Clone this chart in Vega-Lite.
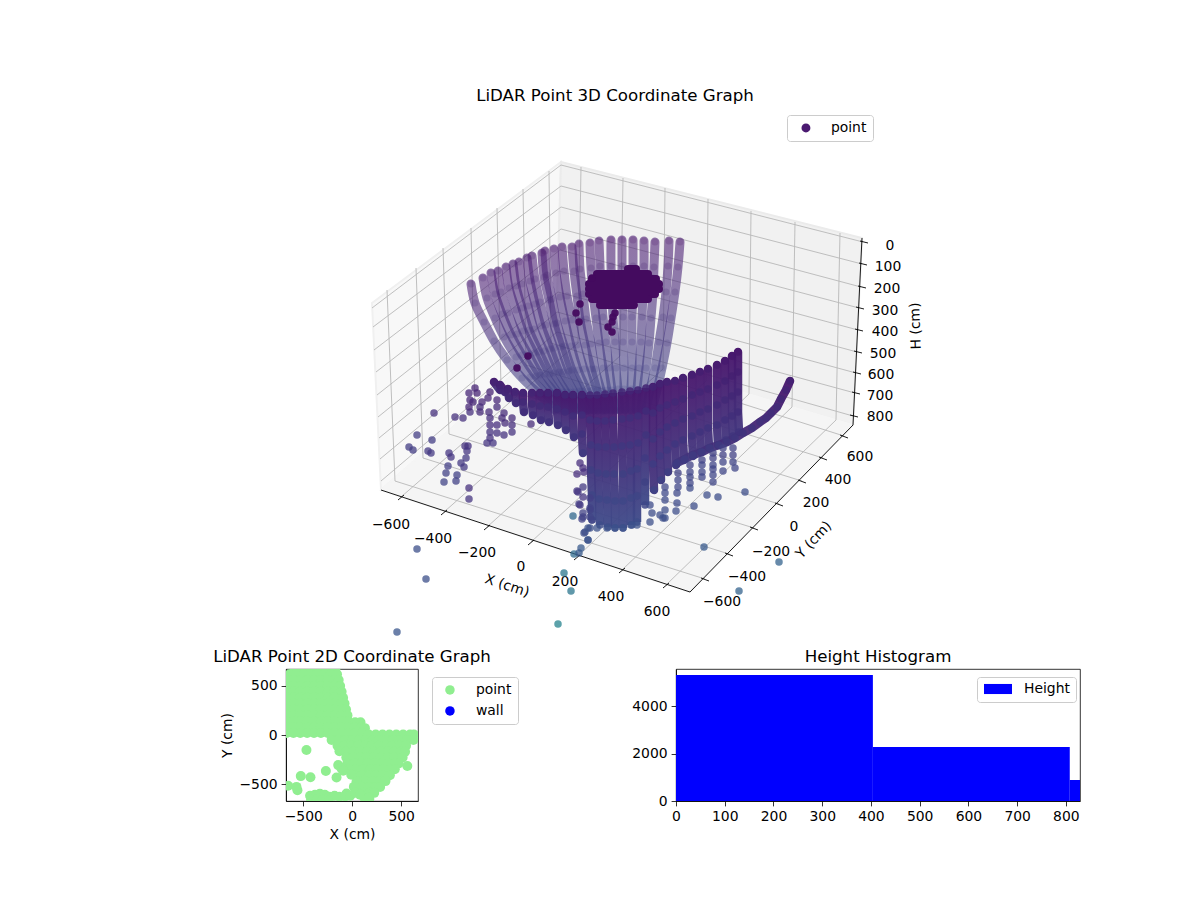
{
"$schema":"https://vega.github.io/schema/vega-lite/v6.json",
"background":"white",
"padding":{"left":212,"top":88,"right":0,"bottom":0},
"bounds":"flush",
"spacing":29,
"resolve":{"scale":{"color":"independent"},"legend":{"color":"independent"}},
"config":{"font":"DejaVu Sans","title":{"fontSize":16.67,"fontWeight":"normal","color":"black"},
"axis":{"grid":false,"labelFontSize":13.9,"labelColor":"black","tickColor":"black","tickSize":4.9,"tickWidth":0.8,"domainColor":"black","domainWidth":0.8,"labelPadding":4,"titleFontSize":13.9,"titleFontWeight":"normal","titleColor":"black","labelFlush":false,"labelOverlap":false},
"legend":{"labelFontSize":13.9,"labelColor":"black"},
"view":{"stroke":"black","strokeWidth":0.8}},
"datasets":{
"grid":[
{"u":387,"v":290,"u2":395,"v2":481},{"u":416,"v":268,"u2":423,"v2":458},{"u":443,"v":248,"u2":449,"v2":434},{"u":471,"v":228,"u2":475,"v2":411},{"u":497,"v":208,"u2":501,"v2":388},{"u":523,"v":189,"u2":526,"v2":365},{"u":549,"v":171,"u2":551,"v2":343},
{"u":372,"v":308,"u2":561,"v2":165},{"u":373,"v":327,"u2":561,"v2":186},{"u":374,"v":350,"u2":561,"v2":207},{"u":376,"v":372,"u2":561,"v2":229},{"u":377,"v":395,"u2":560,"v2":250},{"u":378,"v":417,"u2":559,"v2":271},{"u":379,"v":438,"u2":558,"v2":292},{"u":380,"v":459,"u2":557,"v2":312},{"u":381,"v":481,"u2":557,"v2":332},
{"u":581,"v":167,"u2":578,"v2":343},{"u":623,"v":178,"u2":620,"v2":356},{"u":665,"v":188,"u2":663,"v2":369},{"u":708,"v":199,"u2":706,"v2":381},{"u":751,"v":211,"u2":749,"v2":394},{"u":795,"v":222,"u2":792,"v2":407},{"u":840,"v":233,"u2":836,"v2":420},
{"u":561,"v":165,"u2":863,"v2":242},{"u":561,"v":186,"u2":862,"v2":264},{"u":561,"v":207,"u2":861,"v2":287},{"u":561,"v":229,"u2":859,"v2":308},{"u":560,"v":250,"u2":858,"v2":330},{"u":559,"v":271,"u2":857,"v2":352},{"u":558,"v":292,"u2":856,"v2":373},{"u":557,"v":312,"u2":855,"v2":393},{"u":557,"v":332,"u2":853,"v2":416},
{"u":401,"v":497,"u2":578,"v2":343},{"u":444,"v":512,"u2":620,"v2":356},{"u":487,"v":527,"u2":663,"v2":369},{"u":531,"v":542,"u2":706,"v2":381},{"u":577,"v":557,"u2":749,"v2":394},{"u":622,"v":570,"u2":792,"v2":407},{"u":666,"v":585,"u2":836,"v2":420},
{"u":395,"v":481,"u2":705,"v2":579},{"u":423,"v":458,"u2":729,"v2":554},{"u":449,"v":434,"u2":754,"v2":528},{"u":475,"v":411,"u2":779,"v2":504},{"u":501,"v":388,"u2":802,"v2":481},{"u":526,"v":365,"u2":823,"v2":458},{"u":551,"v":343,"u2":844,"v2":436}
],
"axes3d":[
{"u":381,"v":490,"u2":690,"v2":592},{"u":690,"v":592,"u2":853,"v2":425},{"u":862,"v":238,"u2":853,"v2":425},
{"u":398,"v":500,"u2":404,"v2":495},{"u":441,"v":515,"u2":447,"v2":510},{"u":484,"v":530,"u2":490,"v2":525},{"u":528,"v":545,"u2":534,"v2":540},{"u":574,"v":560,"u2":580,"v2":555},{"u":619,"v":573,"u2":625,"v2":568},{"u":663,"v":588,"u2":669,"v2":583},
{"u":701,"v":578,"u2":709,"v2":581},{"u":725,"v":553,"u2":733,"v2":556},{"u":750,"v":527,"u2":758,"v2":530},{"u":775,"v":503,"u2":783,"v2":506},{"u":798,"v":480,"u2":806,"v2":483},{"u":819,"v":457,"u2":827,"v2":460},{"u":840,"v":435,"u2":848,"v2":438},
{"u":860,"v":241,"u2":868,"v2":243},{"u":859,"v":263,"u2":867,"v2":265},{"u":858,"v":286,"u2":866,"v2":288},{"u":856,"v":307,"u2":864,"v2":309},{"u":855,"v":329,"u2":863,"v2":331},{"u":854,"v":351,"u2":862,"v2":353},{"u":853,"v":372,"u2":861,"v2":374},{"u":852,"v":392,"u2":860,"v2":394},{"u":850,"v":415,"u2":858,"v2":417}
],
"ticks3d":[
{"u":391,"v":525,"t":"−600"},{"u":433,"v":539,"t":"−400"},{"u":477,"v":553,"t":"−200"},{"u":521,"v":567,"t":"0"},{"u":565,"v":582,"t":"200"},{"u":611,"v":597,"t":"400"},{"u":657,"v":612,"t":"600"},
{"u":722,"v":602,"t":"−600"},{"u":747,"v":577,"t":"−400"},{"u":771,"v":552,"t":"−200"},{"u":794,"v":527,"t":"0"},{"u":816,"v":503,"t":"200"},{"u":838,"v":480,"t":"400"},{"u":860,"v":457,"t":"600"},
{"u":890,"v":246,"t":"0"},{"u":888,"v":267,"t":"100"},{"u":887,"v":289,"t":"200"},{"u":885,"v":311,"t":"300"},{"u":885,"v":332,"t":"400"},{"u":883,"v":354,"t":"500"},{"u":881,"v":375,"t":"600"},{"u":880,"v":396,"t":"700"},{"u":880,"v":417,"t":"800"}
],
"rear":[
{"c":1,"u":471,"v":284},{"c":1,"u":475,"v":303},{"c":1,"u":484,"v":322},{"c":1,"u":494,"v":341},{"c":1,"u":507,"v":360},{"c":1,"u":522,"v":378},{"c":1,"u":540,"v":395},{"c":1,"u":555,"v":410},
{"c":2,"u":483,"v":278},{"c":2,"u":487,"v":298},{"c":2,"u":495,"v":318},{"c":2,"u":504,"v":337},{"c":2,"u":516,"v":357},{"c":2,"u":530,"v":377},{"c":2,"u":546,"v":394},{"c":2,"u":560,"v":410},
{"c":3,"u":491,"v":273},{"c":3,"u":495,"v":294},{"c":3,"u":502,"v":314},{"c":3,"u":511,"v":335},{"c":3,"u":522,"v":355},{"c":3,"u":536,"v":376},{"c":3,"u":551,"v":394},{"c":3,"u":564,"v":410},
{"c":4,"u":498,"v":271},{"c":4,"u":501,"v":292},{"c":4,"u":508,"v":313},{"c":4,"u":517,"v":334},{"c":4,"u":528,"v":354},{"c":4,"u":540,"v":375},{"c":4,"u":555,"v":393},{"c":4,"u":567,"v":410},
{"c":5,"u":506,"v":267},{"c":5,"u":509,"v":288},{"c":5,"u":516,"v":310},{"c":5,"u":523,"v":331},{"c":5,"u":534,"v":353},{"c":5,"u":545,"v":374},{"c":5,"u":558,"v":393},{"c":5,"u":570,"v":410},
{"c":6,"u":513,"v":264},{"c":6,"u":516,"v":286},{"c":6,"u":522,"v":308},{"c":6,"u":529,"v":330},{"c":6,"u":539,"v":352},{"c":6,"u":550,"v":374},{"c":6,"u":562,"v":392},{"c":6,"u":573,"v":410},
{"c":7,"u":519,"v":262},{"c":7,"u":522,"v":284},{"c":7,"u":528,"v":306},{"c":7,"u":534,"v":329},{"c":7,"u":544,"v":351},{"c":7,"u":554,"v":373},{"c":7,"u":566,"v":392},{"c":7,"u":576,"v":410},
{"c":8,"u":527,"v":258},{"c":8,"u":530,"v":281},{"c":8,"u":535,"v":304},{"c":8,"u":541,"v":326},{"c":8,"u":550,"v":349},{"c":8,"u":559,"v":372},{"c":8,"u":570,"v":392},{"c":8,"u":580,"v":410},
{"c":9,"u":532,"v":256},{"c":9,"u":535,"v":279},{"c":9,"u":540,"v":302},{"c":9,"u":546,"v":325},{"c":9,"u":554,"v":348},{"c":9,"u":563,"v":372},{"c":9,"u":574,"v":392},{"c":9,"u":583,"v":410},
{"c":10,"u":542,"v":253},{"c":10,"u":544,"v":277},{"c":10,"u":549,"v":300},{"c":10,"u":554,"v":324},{"c":10,"u":561,"v":347},{"c":10,"u":569,"v":371},{"c":10,"u":579,"v":391},{"c":10,"u":587,"v":410},
{"c":11,"u":545,"v":251},{"c":11,"u":547,"v":275},{"c":11,"u":552,"v":299},{"c":11,"u":557,"v":323},{"c":11,"u":564,"v":346},{"c":11,"u":572,"v":370},{"c":11,"u":582,"v":391},{"c":11,"u":590,"v":410},
{"c":12,"u":554,"v":249},{"c":12,"u":556,"v":273},{"c":12,"u":560,"v":297},{"c":12,"u":565,"v":321},{"c":12,"u":571,"v":346},{"c":12,"u":578,"v":370},{"c":12,"u":587,"v":391},{"c":12,"u":594,"v":410},
{"c":13,"u":562,"v":247},{"c":13,"u":564,"v":271},{"c":13,"u":567,"v":296},{"c":13,"u":572,"v":320},{"c":13,"u":577,"v":345},{"c":13,"u":584,"v":369},{"c":13,"u":592,"v":390},{"c":13,"u":598,"v":410},
{"c":14,"u":572,"v":247},{"c":14,"u":574,"v":271},{"c":14,"u":577,"v":296},{"c":14,"u":580,"v":320},{"c":14,"u":585,"v":345},{"c":14,"u":591,"v":369},{"c":14,"u":597,"v":390},{"c":14,"u":603,"v":410},
{"c":15,"u":579,"v":244},{"c":15,"u":580,"v":269},{"c":15,"u":583,"v":294},{"c":15,"u":586,"v":319},{"c":15,"u":591,"v":344},{"c":15,"u":595,"v":369},{"c":15,"u":601,"v":390},{"c":15,"u":606,"v":410},
{"c":16,"u":590,"v":243},{"c":16,"u":591,"v":268},{"c":16,"u":593,"v":293},{"c":16,"u":596,"v":318},{"c":16,"u":599,"v":343},{"c":16,"u":603,"v":368},{"c":16,"u":607,"v":390},{"c":16,"u":611,"v":410},
{"c":17,"u":599,"v":241},{"c":17,"u":600,"v":266},{"c":17,"u":601,"v":292},{"c":17,"u":603,"v":317},{"c":17,"u":606,"v":342},{"c":17,"u":609,"v":368},{"c":17,"u":612,"v":390},{"c":17,"u":615,"v":410},
{"c":18,"u":611,"v":240},{"c":18,"u":611,"v":266},{"c":18,"u":612,"v":291},{"c":18,"u":613,"v":317},{"c":18,"u":615,"v":342},{"c":18,"u":616,"v":368},{"c":18,"u":618,"v":389},{"c":18,"u":620,"v":410},
{"c":19,"u":622,"v":240},{"c":19,"u":622,"v":266},{"c":19,"u":622,"v":291},{"c":19,"u":623,"v":317},{"c":19,"u":623,"v":342},{"c":19,"u":624,"v":368},{"c":19,"u":624,"v":389},{"c":19,"u":625,"v":410},
{"c":20,"u":633,"v":240},{"c":20,"u":633,"v":266},{"c":20,"u":633,"v":291},{"c":20,"u":632,"v":317},{"c":20,"u":632,"v":342},{"c":20,"u":632,"v":368},{"c":20,"u":631,"v":389},{"c":20,"u":631,"v":410},
{"c":21,"u":644,"v":241},{"c":21,"u":644,"v":266},{"c":21,"u":643,"v":292},{"c":21,"u":642,"v":317},{"c":21,"u":641,"v":342},{"c":21,"u":639,"v":368},{"c":21,"u":637,"v":390},{"c":21,"u":636,"v":410},
{"c":22,"u":655,"v":242},{"c":22,"u":654,"v":267},{"c":22,"u":653,"v":292},{"c":22,"u":651,"v":318},{"c":22,"u":649,"v":343},{"c":22,"u":646,"v":368},{"c":22,"u":643,"v":390},{"c":22,"u":641,"v":410},
{"c":23,"u":669,"v":241},{"c":23,"u":668,"v":266},{"c":23,"u":666,"v":292},{"c":23,"u":663,"v":317},{"c":23,"u":659,"v":342},{"c":23,"u":655,"v":368},{"c":23,"u":650,"v":390},{"c":23,"u":646,"v":410},
{"c":24,"u":680,"v":242},{"c":24,"u":678,"v":267},{"c":24,"u":675,"v":292},{"c":24,"u":671,"v":318},{"c":24,"u":667,"v":343},{"c":24,"u":662,"v":368},{"c":24,"u":657,"v":390},{"c":24,"u":652,"v":410}
],
"blob":[
{"c":1,"u":628,"v":269},{"c":1,"u":636,"v":269},{"c":2,"u":597,"v":274},{"c":2,"u":648,"v":274},{"c":3,"u":592,"v":279},{"c":3,"u":656,"v":279},{"c":4,"u":589,"v":284},{"c":4,"u":659,"v":284},{"c":5,"u":589,"v":289},{"c":5,"u":659,"v":289},{"c":6,"u":589,"v":294},{"c":6,"u":655,"v":294},{"c":7,"u":592,"v":299},{"c":7,"u":648,"v":299},{"c":8,"u":600,"v":305},{"c":8,"u":634,"v":305}
],
"blobStray":[
{"u":580,"v":304},{"u":576,"v":313},{"u":579,"v":322},{"u":592,"v":278},{"u":613,"v":317},{"u":612,"v":322},{"u":608,"v":327},{"u":612,"v":332},{"u":615,"v":313},{"u":528,"v":356},{"u":517,"v":368}
],
"front":[
{"c":1,"u":494,"v":382},{"c":1,"u":500,"v":390},
{"c":2,"u":500,"v":385},{"c":2,"u":505,"v":392},
{"c":3,"u":508,"v":389},{"c":3,"u":509,"v":398},
{"c":4,"u":515,"v":392},{"c":4,"u":516,"v":403},
{"c":5,"u":523,"v":393},{"c":5,"u":523,"v":402},{"c":5,"u":524,"v":412},
{"c":6,"u":532,"v":393},{"c":6,"u":532,"v":404},{"c":6,"u":533,"v":415},
{"c":7,"u":540,"v":393},{"c":7,"u":540,"v":406},{"c":7,"u":541,"v":420},
{"c":8,"u":548,"v":393},{"c":8,"u":548,"v":407},{"c":8,"u":549,"v":422},
{"c":9,"u":557,"v":393},{"c":9,"u":557,"v":409},{"c":9,"u":558,"v":425},
{"c":10,"u":565,"v":395},{"c":10,"u":565,"v":412},{"c":10,"u":566,"v":430},
{"c":11,"u":573,"v":395},{"c":11,"u":573,"v":416},{"c":11,"u":574,"v":437},
{"c":12,"u":582,"v":395},{"c":12,"u":582,"v":415},{"c":12,"u":582,"v":434},{"c":12,"u":583,"v":453},
{"c":13,"u":590,"v":395},{"c":13,"u":590,"v":420},{"c":13,"u":591,"v":445},{"c":13,"u":591,"v":470},{"c":13,"u":592,"v":495},{"c":13,"u":592,"v":520},
{"c":14,"u":597,"v":395},{"c":14,"u":597,"v":421},{"c":14,"u":598,"v":447},{"c":14,"u":598,"v":473},{"c":14,"u":599,"v":499},{"c":14,"u":600,"v":525},
{"c":15,"u":605,"v":394},{"c":15,"u":605,"v":421},{"c":15,"u":606,"v":447},{"c":15,"u":606,"v":474},{"c":15,"u":607,"v":500},{"c":15,"u":608,"v":527},
{"c":16,"u":613,"v":393},{"c":16,"u":613,"v":420},{"c":16,"u":614,"v":447},{"c":16,"u":614,"v":474},{"c":16,"u":615,"v":501},{"c":16,"u":615,"v":528},
{"c":17,"u":622,"v":392},{"c":17,"u":622,"v":419},{"c":17,"u":622,"v":446},{"c":17,"u":623,"v":474},{"c":17,"u":623,"v":501},{"c":17,"u":623,"v":528},
{"c":18,"u":630,"v":391},{"c":18,"u":630,"v":418},{"c":18,"u":630,"v":445},{"c":18,"u":631,"v":471},{"c":18,"u":631,"v":498},{"c":18,"u":631,"v":525},
{"c":19,"u":638,"v":390},{"c":19,"u":638,"v":416},{"c":19,"u":638,"v":443},{"c":19,"u":637,"v":469},{"c":19,"u":637,"v":496},{"c":19,"u":637,"v":522},
{"c":20,"u":646,"v":388},{"c":20,"u":646,"v":411},{"c":20,"u":646,"v":435},{"c":20,"u":645,"v":458},{"c":20,"u":645,"v":482},{"c":20,"u":645,"v":505},
{"c":21,"u":653,"v":387},{"c":21,"u":653,"v":413},{"c":21,"u":653,"v":439},{"c":21,"u":653,"v":464},{"c":21,"u":654,"v":490},
{"c":22,"u":660,"v":384},{"c":22,"u":660,"v":408},{"c":22,"u":660,"v":432},{"c":22,"u":660,"v":456},{"c":22,"u":661,"v":480},
{"c":23,"u":667,"v":382},{"c":23,"u":667,"v":405},{"c":23,"u":667,"v":427},{"c":23,"u":667,"v":450},{"c":23,"u":668,"v":472},
{"c":24,"u":675,"v":381},{"c":24,"u":675,"v":402},{"c":24,"u":675,"v":423},{"c":24,"u":675,"v":444},{"c":24,"u":676,"v":465},
{"c":25,"u":683,"v":378},{"c":25,"u":683,"v":399},{"c":25,"u":683,"v":419},{"c":25,"u":683,"v":440},{"c":25,"u":684,"v":460},
{"c":26,"u":692,"v":375},{"c":26,"u":692,"v":395},{"c":26,"u":692,"v":416},{"c":26,"u":692,"v":436},{"c":26,"u":693,"v":456},
{"c":27,"u":700,"v":372},{"c":27,"u":700,"v":392},{"c":27,"u":700,"v":412},{"c":27,"u":700,"v":432},{"c":27,"u":701,"v":452},
{"c":28,"u":708,"v":369},{"c":28,"u":708,"v":389},{"c":28,"u":708,"v":409},{"c":28,"u":708,"v":428},{"c":28,"u":709,"v":448},
{"c":29,"u":717,"v":365},{"c":29,"u":717,"v":385},{"c":29,"u":717,"v":405},{"c":29,"u":717,"v":425},{"c":29,"u":718,"v":445},
{"c":30,"u":725,"v":361},{"c":30,"u":725,"v":381},{"c":30,"u":725,"v":400},{"c":30,"u":725,"v":420},{"c":30,"u":726,"v":440},
{"c":31,"u":732,"v":356},{"c":31,"u":732,"v":376},{"c":31,"u":732,"v":396},{"c":31,"u":732,"v":416},{"c":31,"u":733,"v":436},
{"c":32,"u":738,"v":352},{"c":32,"u":738,"v":372},{"c":32,"u":738,"v":392},{"c":32,"u":738,"v":412},{"c":32,"u":739,"v":432},
{"c":40,"u":790,"v":381},{"c":40,"u":786,"v":390},{"c":40,"u":781,"v":399},{"c":40,"u":777,"v":407},{"c":40,"u":771,"v":413},{"c":40,"u":766,"v":418},{"c":40,"u":760,"v":422},{"c":40,"u":752,"v":428},{"c":40,"u":743,"v":433},{"c":40,"u":735,"v":438},{"c":40,"u":727,"v":442},{"c":40,"u":719,"v":445},{"c":40,"u":710,"v":448},{"c":40,"u":702,"v":452},{"c":40,"u":693,"v":455},{"c":40,"u":685,"v":459},{"c":40,"u":677,"v":463}
],
"scatter":[
{"u":434,"v":413,"h":250},{"u":455,"v":417,"h":250},{"u":463,"v":418,"h":250},{"u":470,"v":412,"h":250},{"u":469,"v":393,"h":200},{"u":470,"v":400,"h":200},{"u":469,"v":407,"h":200},{"u":475,"v":388,"h":180},{"u":477,"v":393,"h":180},{"u":473,"v":402,"h":200},{"u":482,"v":402,"h":200},{"u":480,"v":412,"h":220},{"u":480,"v":407,"h":220},
{"u":490,"v":392,"h":180},{"u":488,"v":398,"h":200},{"u":497,"v":400,"h":200},{"u":497,"v":407,"h":220},{"u":489,"v":412,"h":220},{"u":504,"v":413,"h":220},{"u":490,"v":418,"h":240},{"u":502,"v":418,"h":220},{"u":512,"v":418,"h":220},{"u":490,"v":425,"h":240},{"u":497,"v":425,"h":240},{"u":505,"v":423,"h":220},{"u":512,"v":425,"h":240},{"u":490,"v":432,"h":260},{"u":497,"v":433,"h":260},{"u":504,"v":435,"h":260},{"u":512,"v":432,"h":260},{"u":490,"v":438,"h":260},{"u":487,"v":443,"h":280},{"u":493,"v":443,"h":280},{"u":531,"v":424,"h":220},
{"u":417,"v":435,"h":320},{"u":432,"v":440,"h":320},{"u":409,"v":447,"h":320},{"u":413,"v":450,"h":320},{"u":428,"v":451,"h":300},{"u":431,"v":453,"h":300},{"u":449,"v":453,"h":280},{"u":451,"v":457,"h":280},{"u":465,"v":446,"h":260},{"u":468,"v":446,"h":260},{"u":467,"v":451,"h":280},{"u":466,"v":458,"h":300},{"u":461,"v":463,"h":300},{"u":464,"v":467,"h":300},{"u":448,"v":466,"h":330},{"u":446,"v":473,"h":340},{"u":457,"v":475,"h":340},{"u":456,"v":481,"h":350},{"u":444,"v":482,"h":360},{"u":469,"v":488,"h":250},{"u":469,"v":499,"h":270},
{"u":417,"v":549,"h":430},{"u":426,"v":579,"h":430},{"u":397,"v":632,"h":470},{"u":558,"v":624,"h":800},{"u":571,"v":591,"h":700},{"u":564,"v":573,"h":700},{"u":574,"v":554,"h":620},{"u":581,"v":548,"h":500},{"u":579,"v":553,"h":500},{"u":588,"v":540,"h":480},{"u":573,"v":516,"h":600},
{"u":704,"v":547,"h":500},{"u":779,"v":562,"h":560},{"u":739,"v":591,"h":560},{"u":745,"v":492,"h":420},{"u":707,"v":495,"h":420},{"u":718,"v":497,"h":420},{"u":694,"v":506,"h":420},
{"u":578,"v":492,"h":300},{"u":583,"v":487,"h":300},{"u":579,"v":504,"h":320},{"u":590,"v":498,"h":320},{"u":583,"v":513,"h":340},{"u":582,"v":519,"h":340},{"u":590,"v":508,"h":340},{"u":592,"v":520,"h":360},{"u":585,"v":532,"h":420},{"u":590,"v":528,"h":420},
{"u":580,"v":463,"h":230},{"u":583,"v":468,"h":230},{"u":577,"v":474,"h":230},{"u":584,"v":472,"h":240},{"u":577,"v":491,"h":280},{"u":583,"v":497,"h":280},{"u":580,"v":505,"h":300},{"u":590,"v":510,"h":340},{"u":583,"v":517,"h":340},{"u":590,"v":517,"h":360},{"u":588,"v":540,"h":450},{"u":584,"v":533,"h":420},
{"u":733,"v":448,"h":350},{"u":733,"v":455,"h":350},{"u":733,"v":462,"h":370},{"u":735,"v":468,"h":380},{"u":723,"v":448,"h":350},{"u":723,"v":455,"h":350},{"u":723,"v":462,"h":370},{"u":723,"v":471,"h":380},
{"u":713,"v":453,"h":350},{"u":713,"v":458,"h":350},{"u":713,"v":465,"h":370},{"u":713,"v":469,"h":370},{"u":713,"v":475,"h":380},{"u":713,"v":482,"h":380},{"u":702,"v":460,"h":350},{"u":702,"v":465,"h":370},{"u":702,"v":472,"h":380},{"u":702,"v":477,"h":380},
{"u":690,"v":465,"h":350},{"u":690,"v":472,"h":370},{"u":690,"v":477,"h":380},{"u":690,"v":483,"h":380},{"u":690,"v":488,"h":400},{"u":678,"v":473,"h":350},{"u":678,"v":480,"h":370},{"u":678,"v":487,"h":380},{"u":677,"v":493,"h":390},{"u":677,"v":503,"h":400},{"u":676,"v":511,"h":420},
{"u":665,"v":487,"h":380},{"u":665,"v":493,"h":390},{"u":665,"v":500,"h":400},{"u":665,"v":510,"h":420},{"u":665,"v":518,"h":430},{"u":650,"v":505,"h":400},{"u":652,"v":513,"h":420},{"u":650,"v":522,"h":430},{"u":660,"v":515,"h":420},{"u":663,"v":518,"h":430},
{"u":588,"v":528,"h":440},{"u":597,"v":528,"h":440},{"u":607,"v":528,"h":440},{"u":615,"v":528,"h":440},{"u":623,"v":528,"h":440},{"u":632,"v":525,"h":440},{"u":637,"v":525,"h":440}
],
"plan":[
{"x":-590,"y":680},{"x":-520,"y":680},{"x":-450,"y":680},{"x":-380,"y":680},{"x":-310,"y":680},{"x":-240,"y":680},{"x":-170,"y":680},
{"x":-640,"y":620},{"x":-570,"y":620},{"x":-500,"y":620},{"x":-430,"y":620},{"x":-360,"y":620},{"x":-290,"y":620},{"x":-220,"y":620},{"x":-155,"y":620},
{"x":-670,"y":560},{"x":-600,"y":560},{"x":-530,"y":560},{"x":-460,"y":560},{"x":-390,"y":560},{"x":-320,"y":560},{"x":-250,"y":560},{"x":-180,"y":560},{"x":-138,"y":560},
{"x":-670,"y":500},{"x":-600,"y":500},{"x":-530,"y":500},{"x":-460,"y":500},{"x":-390,"y":500},{"x":-320,"y":500},{"x":-250,"y":500},{"x":-180,"y":500},{"x":-123,"y":500},
{"x":-670,"y":440},{"x":-600,"y":440},{"x":-530,"y":440},{"x":-460,"y":440},{"x":-390,"y":440},{"x":-320,"y":440},{"x":-250,"y":440},{"x":-180,"y":440},{"x":-108,"y":440},
{"x":-670,"y":380},{"x":-600,"y":380},{"x":-530,"y":380},{"x":-460,"y":380},{"x":-390,"y":380},{"x":-320,"y":380},{"x":-250,"y":380},{"x":-180,"y":380},{"x":-93,"y":380},
{"x":-670,"y":320},{"x":-600,"y":320},{"x":-530,"y":320},{"x":-460,"y":320},{"x":-390,"y":320},{"x":-320,"y":320},{"x":-250,"y":320},{"x":-180,"y":320},{"x":-110,"y":320},{"x":-78,"y":320},
{"x":-670,"y":260},{"x":-600,"y":260},{"x":-530,"y":260},{"x":-460,"y":260},{"x":-390,"y":260},{"x":-320,"y":260},{"x":-250,"y":260},{"x":-180,"y":260},{"x":-110,"y":260},{"x":-63,"y":260},
{"x":-670,"y":200},{"x":-600,"y":200},{"x":-530,"y":200},{"x":-460,"y":200},{"x":-390,"y":200},{"x":-320,"y":200},{"x":-250,"y":200},{"x":-180,"y":200},{"x":-110,"y":200},{"x":-48,"y":200},
{"x":-670,"y":140},{"x":-600,"y":140},{"x":-530,"y":140},{"x":-460,"y":140},{"x":-390,"y":140},{"x":-320,"y":140},{"x":-250,"y":140},{"x":-180,"y":140},{"x":-110,"y":140},{"x":-40,"y":140},{"x":30,"y":130},{"x":85,"y":130},
{"x":-670,"y":80},{"x":-600,"y":80},{"x":-530,"y":80},{"x":-460,"y":80},{"x":-390,"y":80},{"x":-320,"y":80},{"x":-250,"y":80},{"x":-180,"y":80},{"x":-110,"y":80},{"x":-40,"y":80},{"x":30,"y":80},{"x":90,"y":80},{"x":130,"y":70},
{"x":-670,"y":20},{"x":-600,"y":20},{"x":-530,"y":20},{"x":-460,"y":20},{"x":-390,"y":20},{"x":-320,"y":20},{"x":-250,"y":20},{"x":-180,"y":20},{"x":-110,"y":20},{"x":-40,"y":20},{"x":30,"y":20},{"x":100,"y":20},
{"x":170,"y":5},{"x":240,"y":5},{"x":310,"y":5},{"x":380,"y":5},{"x":450,"y":5},{"x":520,"y":5},{"x":590,"y":5},{"x":630,"y":5},
{"x":-210,"y":-50},{"x":-140,"y":-50},{"x":-70,"y":-50},{"x":0,"y":-50},{"x":70,"y":-50},{"x":140,"y":-50},{"x":210,"y":-50},{"x":280,"y":-50},{"x":350,"y":-50},{"x":420,"y":-50},{"x":490,"y":-50},{"x":560,"y":-50},{"x":625,"y":-50},
{"x":-150,"y":-110},{"x":-80,"y":-110},{"x":-10,"y":-110},{"x":60,"y":-110},{"x":130,"y":-110},{"x":200,"y":-110},{"x":270,"y":-110},{"x":340,"y":-110},{"x":410,"y":-110},{"x":480,"y":-110},{"x":550,"y":-110},
{"x":-130,"y":-165},{"x":-60,"y":-170},{"x":10,"y":-170},{"x":80,"y":-170},{"x":150,"y":-170},{"x":220,"y":-170},{"x":290,"y":-170},{"x":360,"y":-170},{"x":430,"y":-170},{"x":500,"y":-170},{"x":540,"y":-170},
{"x":-60,"y":-230},{"x":10,"y":-230},{"x":80,"y":-230},{"x":150,"y":-230},{"x":220,"y":-230},{"x":290,"y":-230},{"x":360,"y":-230},{"x":430,"y":-230},{"x":515,"y":-230},
{"x":-50,"y":-290},{"x":20,"y":-290},{"x":90,"y":-290},{"x":160,"y":-290},{"x":230,"y":-290},{"x":300,"y":-290},{"x":370,"y":-290},{"x":440,"y":-290},{"x":475,"y":-290},
{"x":-30,"y":-350},{"x":40,"y":-350},{"x":110,"y":-350},{"x":180,"y":-350},{"x":250,"y":-350},{"x":320,"y":-350},{"x":390,"y":-350},{"x":435,"y":-350},
{"x":30,"y":-410},{"x":100,"y":-410},{"x":170,"y":-410},{"x":240,"y":-410},{"x":310,"y":-410},{"x":385,"y":-410},
{"x":70,"y":-470},{"x":140,"y":-470},{"x":210,"y":-470},{"x":280,"y":-470},{"x":340,"y":-470},
{"x":100,"y":-530},{"x":170,"y":-530},{"x":235,"y":-530},{"x":285,"y":-530},
{"x":120,"y":-590},{"x":180,"y":-590},{"x":225,"y":-590},{"x":130,"y":-650},{"x":175,"y":-650},
{"x":-143,"y":-307},{"x":-110,"y":-340},{"x":-92,"y":-365},{"x":-160,"y":-433},{"x":-10,"y":-405},{"x":44,"y":-477},{"x":17,"y":-529},{"x":-58,"y":-597},
{"x":-430,"y":-620},{"x":-380,"y":-610},{"x":-330,"y":-600},{"x":-280,"y":-610},{"x":-230,"y":-630},{"x":-180,"y":-620},{"x":-130,"y":-630},{"x":-70,"y":-625},{"x":-20,"y":-620},{"x":30,"y":-590},{"x":80,"y":-610},{"x":170,"y":-640},{"x":-420,"y":-660},{"x":-360,"y":-660},{"x":-300,"y":-660},{"x":-240,"y":-670},
{"x":-467,"y":-153},{"x":-525,"y":-419},{"x":-426,"y":-430},{"x":-269,"y":-368},{"x":-655,"y":-518},{"x":-569,"y":-529},{"x":-559,"y":-563},{"x":563,"y":-317}
],
"hist":[{"lo":0,"hi":404,"n":5305},{"lo":404,"hi":808,"n":2274},{"lo":808,"hi":829,"n":884}]
},
"vconcat":[
{
"width":794,"height":535,
"view":{"stroke":null},
"title":{"text":"LiDAR Point 3D Coordinate Graph","anchor":"middle","dx":-68,"offset":0},
"encoding":{
"x":{"field":"u","type":"quantitative","axis":null,"scale":{"domain":[286,1080],"nice":false,"zero":false}},
"y":{"field":"v","type":"quantitative","axis":null,"scale":{"domain":[640,105],"nice":false,"zero":false}}
},
"resolve":{"scale":{"color":"independent"}},
"layer":[
{"data":{"values":[{"i":1,"u":372,"v":303},{"i":2,"u":561,"v":162},{"i":3,"u":556,"v":337},{"i":4,"u":381,"v":490}]},
"mark":{"type":"line","fill":"#f8f8f8","stroke":"#f0f0f0","interpolate":"linear-closed"},"encoding":{"order":{"field":"i"}}},
{"data":{"values":[{"i":1,"u":561,"v":162},{"i":2,"u":862,"v":238},{"i":3,"u":853,"v":425},{"i":4,"u":556,"v":337}]},
"mark":{"type":"line","fill":"#f1f1f1","stroke":"#ebebeb","interpolate":"linear-closed"},"encoding":{"order":{"field":"i"}}},
{"data":{"values":[{"i":1,"u":381,"v":490},{"i":2,"u":556,"v":337},{"i":3,"u":853,"v":425},{"i":4,"u":690,"v":592}]},
"mark":{"type":"line","fill":"#f5f5f5","stroke":"#f5f5f5","interpolate":"linear-closed"},"encoding":{"order":{"field":"i"}}},
{"data":{"name":"grid"},"mark":{"type":"rule","color":"#b8b8b8","strokeWidth":0.9},"encoding":{"x2":{"field":"u2"},"y2":{"field":"v2"}}},
{"data":{"name":"axes3d"},"mark":{"type":"rule","color":"black","strokeWidth":0.9},"encoding":{"x2":{"field":"u2"},"y2":{"field":"v2"}}},
{"data":{"name":"ticks3d"},"mark":{"type":"text","fontSize":13.9,"align":"center","baseline":"middle","color":"black"},"encoding":{"text":{"field":"t"}}},
{"data":{"values":[{"u":507,"v":586,"t":"X (cm)"}]},"mark":{"type":"text","fontSize":13.9,"angle":18,"align":"center","baseline":"middle","color":"black"},"encoding":{"text":{"field":"t"}}},
{"data":{"values":[{"u":814,"v":540,"t":"Y (cm)"}]},"mark":{"type":"text","fontSize":13.9,"angle":313,"align":"center","baseline":"middle","color":"black"},"encoding":{"text":{"field":"t"}}},
{"data":{"values":[{"u":916,"v":326,"t":"H (cm)"}]},"mark":{"type":"text","fontSize":13.9,"angle":268,"align":"center","baseline":"middle","color":"black"},"encoding":{"text":{"field":"t"}}},
{"data":{"name":"rear"},"mark":{"type":"line","strokeWidth":9,"opacity":0.58,"interpolate":"catmull-rom","strokeCap":"round","color":{"gradient":"linear","x1":0,"y1":0,"x2":0,"y2":1,"stops":[{"offset":0,"color":"#4a1a72"},{"offset":1,"color":"#3f4788"}]}},"encoding":{"detail":{"field":"c"},"order":{"field":"v"}}},
{"data":{"name":"rear"},"mark":{"type":"circle","size":49,"opacity":0.2},"encoding":{"color":{"field":"v","type":"quantitative","legend":null,"scale":{"domain":[240,410],"range":["#440f62","#3f4788"]}}}},
{"data":{"name":"blob"},"mark":{"type":"line","strokeWidth":8,"color":"#440b5f","strokeCap":"round"},"encoding":{"detail":{"field":"c"}}},
{"data":{"name":"blobStray"},"mark":{"type":"circle","size":56,"opacity":0.95,"color":"#440b5f"}},
{"data":{"name":"front"},"transform":[{"filter":"datum.c>=13 && datum.c<=20"}],"mark":{"type":"line","strokeWidth":8.5,"opacity":0.95,"color":{"gradient":"linear","x1":0,"y1":0,"x2":0,"y2":1,"stops":[{"offset":0,"color":"#47156c"},{"offset":1,"color":"#3e4a89"}]}},"encoding":{"detail":{"field":"c"},"order":{"field":"v"}}},
{"data":{"name":"front"},"transform":[{"filter":"datum.c<13 || datum.c>20"}],"mark":{"type":"line","strokeWidth":8.5,"opacity":0.95,"strokeCap":"round","color":{"gradient":"linear","x1":0,"y1":0,"x2":0,"y2":1,"stops":[{"offset":0,"color":"#47156c"},{"offset":1,"color":"#43367e"}]}},"encoding":{"detail":{"field":"c"},"order":{"field":"v"}}},
{"data":{"name":"front"},"mark":{"type":"circle","size":56,"opacity":0.85},"encoding":{"color":{"field":"v","type":"quantitative","legend":null,"scale":{"domain":[345,530],"range":["#46126a","#3e4e8a"]}}}},
{"data":{"name":"scatter"},"mark":{"type":"point","filled":true,"size":56,"opacity":0.75},
"encoding":{"color":{"field":"h","type":"quantitative","legend":null,"scale":{"scheme":"viridis","domain":[0,1800]}},
"shape":{"datum":"point","scale":{"domain":["point"],"range":["circle"]},"legend":{"title":null,"orient":"none","legendX":501,"legendY":10,"symbolFillColor":"#4b1a71","symbolStrokeColor":"#4b1a71","symbolOpacity":1,"symbolSize":55,"symbolOffset":6,"strokeColor":"#cccccc","cornerRadius":3,"padding":6,"labelOffset":18,"rowPadding":0}}}}
]
},
{
"bounds":"flush",
"spacing":258,
"resolve":{"scale":{"color":"independent"},"legend":{"color":"independent"}},
"hconcat":[
{
"width":132,"height":132,
"title":{"text":"LiDAR Point 2D Coordinate Graph","anchor":"middle","offset":3},
"data":{"name":"plan"},
"mark":{"type":"circle","size":100,"opacity":1,"clip":true},
"encoding":{
"x":{"field":"x","type":"quantitative","title":"X (cm)","scale":{"domain":[-676,672],"nice":false},"axis":{"values":[-500,0,500],"format":"d"}},
"y":{"field":"y","type":"quantitative","title":"Y (cm)","scale":{"domain":[-673,673],"nice":false},"axis":{"values":[-500,0,500],"format":"d"}},
"color":{"datum":"point","scale":{"domain":["point","wall"],"range":["#90ee90","#0000ff"]},"legend":{"title":null,"orient":"none","legendX":146,"legendY":8,"symbolSize":90,"symbolOffset":5,"strokeColor":"#cccccc","cornerRadius":3,"padding":6,"rowPadding":6,"labelOffset":19,"symbolOpacity":1}}
}
},
{
"width":404,"height":132,
"title":{"text":"Height Histogram","anchor":"middle","offset":3},
"data":{"name":"hist"},
"mark":{"type":"rect"},
"encoding":{
"x":{"field":"lo","type":"quantitative","title":null,"scale":{"domain":[0,829],"nice":false},"axis":{"values":[0,100,200,300,400,500,600,700,800],"format":"d"}},
"x2":{"field":"hi"},
"y":{"field":"n","type":"quantitative","title":null,"scale":{"domain":[0,5560],"nice":false},"axis":{"values":[0,2000,4000],"format":"d"}},
"y2":{"datum":0},
"color":{"datum":"Height","scale":{"domain":["Height"],"range":["#0000ff"]},"legend":{"title":null,"orient":"none","legendX":301,"legendY":8,"symbolType":"M-1,-0.36H1V0.36H-1Z","symbolSize":784,"clipHeight":12,"strokeColor":"#cccccc","cornerRadius":3,"padding":6,"labelOffset":11}}
}
}
]
}
]
}
